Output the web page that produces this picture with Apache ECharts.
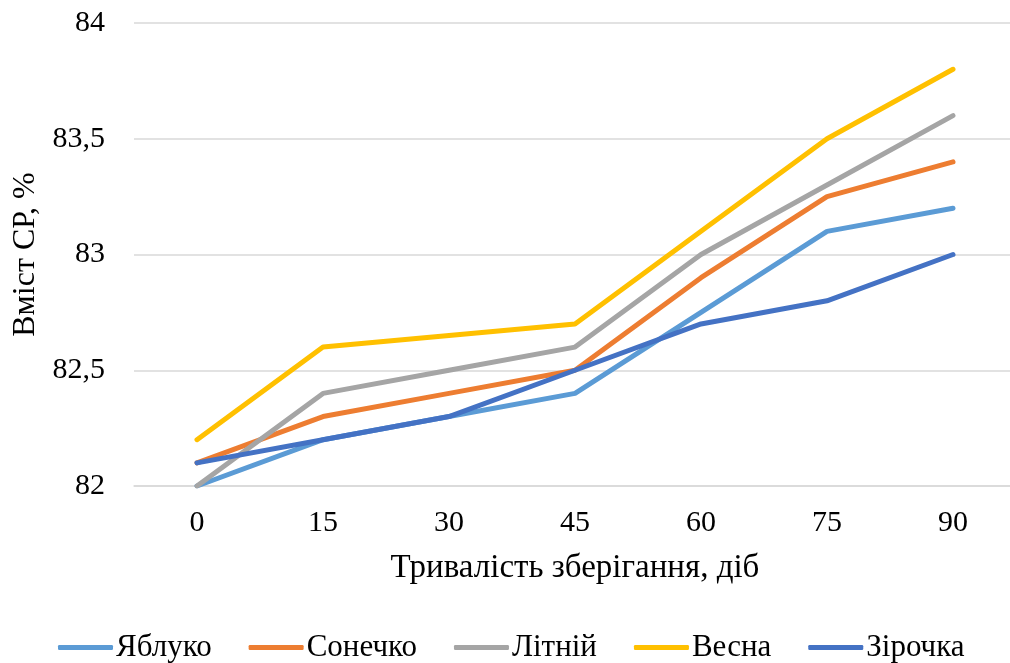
<!DOCTYPE html>
<html>
<head>
<meta charset="utf-8">
<script src="https://cdn.jsdelivr.net/npm/echarts@6/dist/echarts.min.js"></script>
<style>
  html, body { margin: 0; padding: 0; background: #fff; }
  #chart { width: 1010px; height: 663px; }
</style>
</head>
<body>
<div id="chart"></div>
<script>
// Storage duration, days
const days = ['0', '15', '30', '45', '60', '75', '90'];

// Dry matter content, % — one array per variety
const yabluko  = [82.0, 82.2, 82.3, 82.4, 82.75, 83.1, 83.2];
const sonechko = [82.1, 82.3, 82.4, 82.5, 82.9, 83.25, 83.4];
const litnii   = [82.0, 82.4, 82.5, 82.6, 83.0, 83.3, 83.6];
const vesna    = [82.2, 82.6, 82.65, 82.7, 83.1, 83.5, 83.8];
const zirochka = [82.1, 82.2, 82.3, 82.5, 82.7, 82.8, 83.0];

const names  = ['Яблуко', 'Сонечко', 'Літній', 'Весна', 'Зірочка'];
const values = [yabluko, sonechko, litnii, vesna, zirochka];
const colors = ['#5B9BD5', '#ED7D31', '#A5A5A5', '#FFC000', '#4472C4'];

const FONT = '"Liberation Serif", "DejaVu Serif", serif';

const chart = echarts.init(document.getElementById('chart'), null, { renderer: 'canvas' });

chart.setOption({
  animation: false,
  color: colors,
  textStyle: { fontFamily: FONT, color: '#000' },
  grid: { left: 134, top: 23, width: 882, height: 463, containLabel: false, outerBoundsMode: 'none' },
  xAxis: {
    type: 'category',
    data: days,
    boundaryGap: true,
    axisLine: { show: true, lineStyle: { color: '#D9D9D9', width: 1.5 } },
    axisTick: { show: false },
    axisLabel: { fontFamily: FONT, fontSize: 30, color: '#000', margin: 22 },
    name: 'Тривалість зберігання, діб',
    nameLocation: 'middle',
    nameGap: 66,
    nameTextStyle: { fontFamily: FONT, fontSize: 33, color: '#000' }
  },
  yAxis: {
    type: 'value',
    min: 82,
    max: 84,
    interval: 0.5,
    axisLine: { show: false },
    axisTick: { show: false },
    splitLine: { lineStyle: { color: '#D9D9D9', width: 1.5 } },
    axisLabel: {
      fontFamily: FONT, fontSize: 30, color: '#000', margin: 29,
      formatter: v => String(v).replace('.', ',')
    },
    name: 'Вміст СР, %',
    nameLocation: 'middle',
    nameGap: 91,
    nameTextStyle: { fontFamily: FONT, fontSize: 32, color: '#000' }
  },
  legend: {
    bottom: 0,
    left: 58,
    padding: 0,
    icon: 'roundRect',
    itemWidth: 55,
    itemHeight: 5,
    itemGap: 37,
    textStyle: { fontFamily: FONT, fontSize: 31, color: '#000', padding: [0, 0, 0, -2] },
    data: names
  },
  series: names.map((n, i) => ({
    name: n,
    type: 'line',
    data: values[i],
    symbol: 'none',
    lineStyle: { width: 5, color: colors[i], cap: 'round', join: 'round' },
    itemStyle: { color: colors[i] }
  }))
});
</script>
</body>
</html>
